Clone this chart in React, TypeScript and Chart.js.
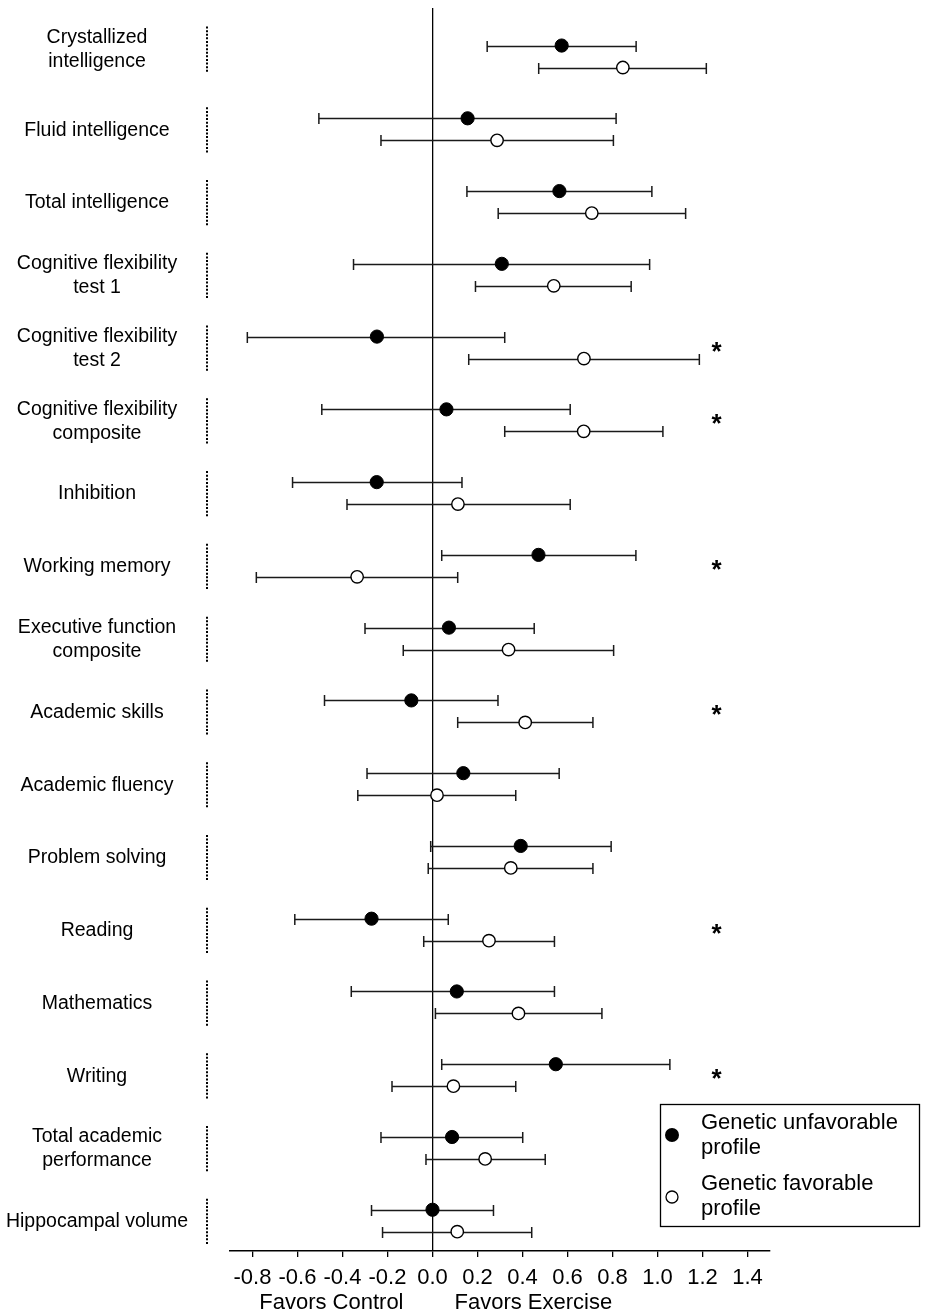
import React, { useEffect, useRef } from "react";
import { Chart, registerables } from "chart.js";

Chart.register(...registerables);

const CATEGORIES: string[][] = [
  ["Crystallized", "intelligence"],
  ["Fluid intelligence"],
  ["Total intelligence"],
  ["Cognitive flexibility", "test 1"],
  ["Cognitive flexibility", "test 2"],
  ["Cognitive flexibility", "composite"],
  ["Inhibition"],
  ["Working memory"],
  ["Executive function", "composite"],
  ["Academic skills"],
  ["Academic fluency"],
  ["Problem solving"],
  ["Reading"],
  ["Mathematics"],
  ["Writing"],
  ["Total academic", "performance"],
  ["Hippocampal volume"],
];

const UNFAV_MEAN = [0.574, 0.156, 0.564, 0.308, -0.247, 0.062, -0.248, 0.471, 0.073, -0.094, 0.137, 0.392, -0.271, 0.108, 0.548, 0.087, 0.0];
const UNFAV_LO = [0.243, -0.505, 0.153, -0.351, -0.823, -0.492, -0.622, 0.041, -0.3, -0.48, -0.291, -0.008, -0.612, -0.361, 0.041, -0.229, -0.271];
const UNFAV_HI = [0.905, 0.816, 0.975, 0.965, 0.321, 0.612, 0.131, 0.904, 0.452, 0.291, 0.563, 0.794, 0.07, 0.542, 1.055, 0.401, 0.271];

const FAV_MEAN = [0.846, 0.287, 0.708, 0.539, 0.673, 0.672, 0.113, -0.335, 0.338, 0.412, 0.02, 0.348, 0.251, 0.382, 0.093, 0.234, 0.11];
const FAV_LO = [0.472, -0.229, 0.292, 0.191, 0.161, 0.321, -0.38, -0.783, -0.13, 0.112, -0.332, -0.019, -0.039, 0.013, -0.18, -0.029, -0.222];
const FAV_HI = [1.217, 0.804, 1.125, 0.883, 1.186, 1.024, 0.612, 0.112, 0.805, 0.713, 0.37, 0.713, 0.542, 0.753, 0.37, 0.501, 0.441];

const SIGNIFICANT = [false, false, false, false, true, true, false, true, false, true, false, false, true, false, true, false, false];

const X_TICKS = [-0.8, -0.6, -0.4, -0.2, 0.0, 0.2, 0.4, 0.6, 0.8, 1.0, 1.2, 1.4];
const SERIES_NAMES = [["Genetic unfavorable", "profile"], ["Genetic favorable", "profile"]];
const X_SIDE_LABELS = ["Favors Control", "Favors Exercise"];
const STAR_X = 1.262;

const FONT = "'Liberation Sans', Arial, Helvetica, sans-serif";
const OFFSET = 0.151;

const forestPlugin = {
  id: "forest",
  beforeDatasetsDraw(chart: any) {
    const { ctx } = chart;
    const x = chart.scales.x;
    const y = chart.scales.y;
    ctx.save();
    ctx.strokeStyle = "#1a1a1a";
    ctx.lineWidth = 1.5;
    const bar = (lo: number, hi: number, yy: number) => {
      const x1 = x.getPixelForValue(lo);
      const x2 = x.getPixelForValue(hi);
      const py = Math.round(y.getPixelForValue(yy)) + 0.5;
      ctx.beginPath();
      ctx.moveTo(x1, py);
      ctx.lineTo(x2, py);
      ctx.moveTo(x1, py - 5.5);
      ctx.lineTo(x1, py + 5.5);
      ctx.moveTo(x2, py - 5.5);
      ctx.lineTo(x2, py + 5.5);
      ctx.stroke();
    };
    for (let i = 0; i < CATEGORIES.length; i++) {
      bar(UNFAV_LO[i], UNFAV_HI[i], i - OFFSET);
      bar(FAV_LO[i], FAV_HI[i], i + OFFSET);
    }
    ctx.restore();
  },
  afterDraw(chart: any) {
    const { ctx } = chart;
    const x = chart.scales.x;
    const y = chart.scales.y;
    ctx.save();
    ctx.fillStyle = "#000";
    ctx.strokeStyle = "#000";

    for (let i = 0; i < CATEGORIES.length; i++) {
      const shift = i === 0 ? -7 : 1;
      const cy = y.getPixelForValue(i) + shift;
      const lines = CATEGORIES[i];
      ctx.font = `19.5px ${FONT}`;
      ctx.textAlign = "center";
      ctx.textBaseline = "middle";
      const lh = 24;
      lines.forEach((t, k) => {
        ctx.fillText(t, 97, cy + (k - (lines.length - 1) / 2) * lh);
      });
      ctx.save();
      ctx.lineWidth = 2;
      ctx.setLineDash([2, 1.6]);
      ctx.beginPath();
      ctx.moveTo(207, cy - 23);
      ctx.lineTo(207, cy + 23);
      ctx.stroke();
      ctx.restore();

      if (SIGNIFICANT[i]) {
        ctx.font = `bold 26px ${FONT}`;
        ctx.textAlign = "center";
        ctx.textBaseline = "alphabetic";
        ctx.fillText("*", x.getPixelForValue(STAR_X), y.getPixelForValue(i) + 12);
      }
    }

    const zx = x.getPixelForValue(0);
    ctx.font = `22px ${FONT}`;
    ctx.textBaseline = "middle";
    ctx.textAlign = "right";
    ctx.fillText(X_SIDE_LABELS[0], zx - 29, 1303);
    ctx.textAlign = "left";
    ctx.fillText(X_SIDE_LABELS[1], zx + 22, 1303);

    ctx.lineWidth = 1.3;
    ctx.strokeRect(660.5, 1104.5, 259, 122);
    ctx.beginPath();
    ctx.arc(672, 1135, 7, 0, Math.PI * 2);
    ctx.fill();
    ctx.beginPath();
    ctx.fillStyle = "#fff";
    ctx.arc(672, 1197, 6, 0, Math.PI * 2);
    ctx.fill();
    ctx.stroke();
    ctx.fillStyle = "#000";
    ctx.font = `22px ${FONT}`;
    ctx.textAlign = "left";
    ctx.textBaseline = "middle";
    ctx.fillText(SERIES_NAMES[0][0], 701, 1123);
    ctx.fillText(SERIES_NAMES[0][1], 701, 1148);
    ctx.fillText(SERIES_NAMES[1][0], 701, 1184);
    ctx.fillText(SERIES_NAMES[1][1], 701, 1209);
    ctx.restore();
  },
};

export default function App() {
  const ref = useRef<HTMLCanvasElement | null>(null);
  useEffect(() => {
    if (!ref.current) return;
    const chart = new Chart(ref.current, {
      type: "scatter",
      data: {
        datasets: [
          {
            label: SERIES_NAMES[0].join(" "),
            data: UNFAV_MEAN.map((m, i) => ({ x: m, y: i - OFFSET })),
            pointRadius: 6.6,
            pointHoverRadius: 6.6,
            backgroundColor: "#000",
            borderColor: "#000",
            borderWidth: 1,
          },
          {
            label: SERIES_NAMES[1].join(" "),
            data: FAV_MEAN.map((m, i) => ({ x: m, y: i + OFFSET })),
            pointRadius: 6.2,
            pointHoverRadius: 6.2,
            backgroundColor: "#fff",
            borderColor: "#000",
            borderWidth: 1.4,
          },
        ],
      },
      options: {
        animation: false,
        responsive: false,
        devicePixelRatio: 1,
        layout: { padding: { left: 230, right: 158, top: 8, bottom: 0 } },
        plugins: { legend: { display: false }, tooltip: { enabled: false } },
        events: [],
        scales: {
          x: {
            type: "linear",
            min: -0.9,
            max: 1.5,
            afterBuildTicks: (s: any) => {
              s.ticks = X_TICKS.map((v) => ({ value: v }));
            },
            afterFit: (s: any) => {
              s.height = 63;
            },
            grid: {
              drawOnChartArea: true,
              drawTicks: true,
              tickLength: 6,
              tickColor: "#000",
              lineWidth: 1.3,
              color: (c: any) => (c.tick && Math.abs(c.tick.value) < 1e-9 ? "#000" : "rgba(0,0,0,0)"),
            },
            border: { display: true, color: "#000", width: 1.5 },
            ticks: {
              color: "#000",
              font: { size: 22, family: FONT },
              padding: 8,
              maxRotation: 0,
              autoSkip: false,
              callback: (v: any) => Number(v).toFixed(1),
            },
          },
          y: {
            type: "linear",
            display: false,
            reverse: true,
            min: -0.667,
            max: 16.416,
          },
        },
      },
      plugins: [forestPlugin],
    });
    return () => chart.destroy();
  }, []);
  return (
    <div style={{ position: "absolute", left: 0, top: 0, width: 928, height: 1314, background: "#fff" }}>
      <canvas ref={ref} width={928} height={1314} style={{ width: 928, height: 1314, display: "block" }} />
    </div>
  );
}
